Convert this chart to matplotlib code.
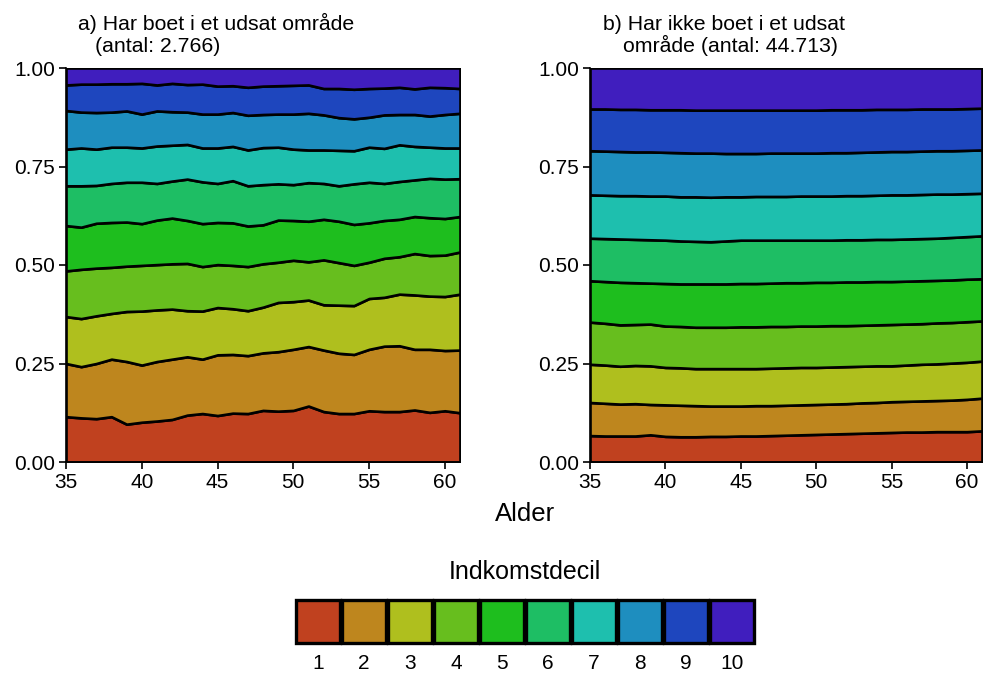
# Indkomstdecil efter alder - udsat område vs. ikke udsat område

import numpy as np
import matplotlib
matplotlib.use("Agg")
import matplotlib.pyplot as plt

plt.rcParams['font.family'] = ['Liberation Sans', 'DejaVu Sans']

# Alder
ages = np.arange(35, 62)

# a) Har boet i et udsat område - kumulerede andele (øvre grænse for decil 1..9)
a_b1 = [0.115, 0.112, 0.110, 0.115, 0.096, 0.101, 0.104, 0.108, 0.119, 0.123, 0.118, 0.124, 0.123, 0.131,
        0.129, 0.131, 0.142, 0.128, 0.123, 0.123, 0.130, 0.128, 0.128, 0.132, 0.126, 0.130, 0.125]
a_b2 = [0.250, 0.242, 0.250, 0.261, 0.255, 0.246, 0.255, 0.261, 0.267, 0.261, 0.272, 0.273, 0.270, 0.277,
        0.280, 0.286, 0.293, 0.284, 0.276, 0.273, 0.286, 0.294, 0.295, 0.286, 0.286, 0.283, 0.284]
a_b3 = [0.369, 0.364, 0.371, 0.377, 0.382, 0.383, 0.386, 0.388, 0.384, 0.383, 0.392, 0.389, 0.384, 0.393,
        0.405, 0.407, 0.411, 0.399, 0.398, 0.397, 0.415, 0.418, 0.426, 0.424, 0.421, 0.420, 0.426]
a_b4 = [0.485, 0.489, 0.492, 0.494, 0.497, 0.499, 0.501, 0.503, 0.504, 0.496, 0.501, 0.499, 0.496, 0.503,
        0.507, 0.512, 0.508, 0.513, 0.506, 0.499, 0.507, 0.517, 0.521, 0.529, 0.524, 0.525, 0.533]
a_b5 = [0.600, 0.596, 0.606, 0.608, 0.609, 0.605, 0.614, 0.619, 0.613, 0.605, 0.608, 0.607, 0.599, 0.602,
        0.614, 0.613, 0.611, 0.616, 0.611, 0.603, 0.607, 0.613, 0.616, 0.623, 0.620, 0.618, 0.623]
a_b6 = [0.701, 0.701, 0.702, 0.707, 0.710, 0.710, 0.707, 0.713, 0.718, 0.711, 0.707, 0.714, 0.701, 0.704,
        0.706, 0.704, 0.709, 0.707, 0.701, 0.706, 0.710, 0.707, 0.712, 0.716, 0.720, 0.718, 0.719]
a_b7 = [0.794, 0.797, 0.794, 0.799, 0.799, 0.797, 0.802, 0.804, 0.806, 0.797, 0.797, 0.801, 0.792, 0.798,
        0.799, 0.794, 0.792, 0.792, 0.791, 0.790, 0.799, 0.796, 0.805, 0.801, 0.799, 0.797, 0.797]
a_b8 = [0.892, 0.888, 0.887, 0.888, 0.891, 0.883, 0.891, 0.889, 0.888, 0.883, 0.883, 0.887, 0.880, 0.882,
        0.883, 0.883, 0.885, 0.881, 0.874, 0.871, 0.875, 0.881, 0.882, 0.882, 0.878, 0.882, 0.885]
a_b9 = [0.957, 0.959, 0.959, 0.960, 0.960, 0.961, 0.957, 0.961, 0.958, 0.959, 0.954, 0.955, 0.951, 0.954,
        0.955, 0.956, 0.957, 0.948, 0.948, 0.946, 0.948, 0.949, 0.951, 0.947, 0.951, 0.950, 0.948]

# b) Har ikke boet i et udsat område
b_b1 = [0.067, 0.066, 0.066, 0.066, 0.069, 0.065, 0.064, 0.064, 0.065, 0.065, 0.066, 0.066, 0.067, 0.068,
        0.069, 0.070, 0.071, 0.072, 0.073, 0.074, 0.075, 0.076, 0.076, 0.077, 0.077, 0.077, 0.079]
b_b2 = [0.151, 0.149, 0.147, 0.148, 0.146, 0.145, 0.144, 0.143, 0.142, 0.142, 0.142, 0.143, 0.143, 0.144,
        0.145, 0.146, 0.147, 0.148, 0.150, 0.151, 0.153, 0.154, 0.155, 0.156, 0.157, 0.159, 0.162]
b_b3 = [0.248, 0.246, 0.243, 0.245, 0.244, 0.240, 0.239, 0.237, 0.237, 0.237, 0.237, 0.237, 0.238, 0.239,
        0.240, 0.240, 0.241, 0.242, 0.243, 0.244, 0.244, 0.246, 0.248, 0.249, 0.251, 0.253, 0.256]
b_b4 = [0.355, 0.352, 0.348, 0.349, 0.350, 0.345, 0.344, 0.342, 0.342, 0.342, 0.343, 0.343, 0.344, 0.344,
        0.345, 0.345, 0.346, 0.346, 0.347, 0.348, 0.349, 0.350, 0.351, 0.353, 0.354, 0.356, 0.358]
b_b5 = [0.460, 0.458, 0.456, 0.455, 0.454, 0.453, 0.452, 0.452, 0.452, 0.452, 0.453, 0.453, 0.454, 0.455,
        0.455, 0.456, 0.456, 0.457, 0.457, 0.458, 0.458, 0.459, 0.460, 0.461, 0.462, 0.464, 0.465]
b_b6 = [0.568, 0.567, 0.566, 0.565, 0.564, 0.563, 0.561, 0.560, 0.559, 0.561, 0.563, 0.563, 0.563, 0.563,
        0.563, 0.563, 0.563, 0.564, 0.564, 0.565, 0.565, 0.566, 0.567, 0.568, 0.570, 0.572, 0.574]
b_b7 = [0.678, 0.677, 0.676, 0.676, 0.675, 0.675, 0.673, 0.673, 0.672, 0.673, 0.673, 0.674, 0.674, 0.674,
        0.675, 0.675, 0.675, 0.676, 0.676, 0.677, 0.678, 0.678, 0.679, 0.680, 0.680, 0.681, 0.682]
b_b8 = [0.790, 0.789, 0.788, 0.787, 0.787, 0.786, 0.785, 0.784, 0.784, 0.783, 0.783, 0.783, 0.784, 0.784,
        0.784, 0.784, 0.785, 0.785, 0.786, 0.787, 0.788, 0.788, 0.789, 0.790, 0.790, 0.791, 0.792]
b_b9 = [0.896, 0.896, 0.895, 0.895, 0.894, 0.894, 0.894, 0.893, 0.893, 0.893, 0.893, 0.893, 0.893, 0.893,
        0.893, 0.893, 0.894, 0.894, 0.894, 0.895, 0.895, 0.895, 0.896, 0.896, 0.896, 0.897, 0.898]

deciles = ["1", "2", "3", "4", "5", "6", "7", "8", "9", "10"]
colors = ["#C0411F", "#BE861E", "#AFBF1E", "#67BE1E", "#1EBE1E",
          "#1EBE64", "#1EBFAE", "#1E8EBF", "#1E46BE", "#401EBE"]

yticks = [0, 0.25, 0.5, 0.75, 1.0]
ytick_labels = ["0.00", "0.25", "0.50", "0.75", "1.00"]
xticks = [35, 40, 45, 50, 55, 60]


def draw_panel(ax, bounds):
    edges = [np.zeros(len(ages))] + [np.array(b) for b in bounds] + [np.ones(len(ages))]
    for i in range(10):
        ax.fill_between(ages, edges[i], edges[i + 1], facecolor=colors[i],
                        edgecolor="black", linewidth=1.9, zorder=2)
    ax.set_xlim(35, 61)
    ax.set_ylim(0, 1)
    ax.set_yticks(yticks)
    ax.set_yticklabels(ytick_labels)
    ax.set_xticks(xticks)
    ax.tick_params(labelsize=15, length=5, width=1.2, direction="out", pad=3)
    for s in ["top", "right"]:
        ax.spines[s].set_visible(False)
    ax.spines["left"].set_linewidth(1.2)
    ax.spines["bottom"].set_linewidth(1.2)


fig = plt.figure(figsize=(9.84, 6.75), dpi=100)
W, H = 984, 675

ax1 = fig.add_axes([66 / W, 213 / H, 394 / W, 394 / H])
draw_panel(ax1, [a_b1, a_b2, a_b3, a_b4, a_b5, a_b6, a_b7, a_b8, a_b9])

ax2 = fig.add_axes([590 / W, 213 / H, 392 / W, 394 / H])
draw_panel(ax2, [b_b1, b_b2, b_b3, b_b4, b_b5, b_b6, b_b7, b_b8, b_b9])

# titler
fig.text(78 / W, 1 - 30 / H, "a) Har boet i et udsat område", fontsize=15.3, va="baseline")
fig.text(95 / W, 1 - 52 / H, "(antal: 2.766)", fontsize=15.3, va="baseline")
fig.text(603 / W, 1 - 30 / H, "b) Har ikke boet i et udsat", fontsize=15.3, va="baseline")
fig.text(623 / W, 1 - 52 / H, "område (antal: 44.713)", fontsize=15.3, va="baseline")

fig.text(525 / W, 1 - 514 / H, "Alder", fontsize=18.5, ha="center", va="center")

# legende
fig.text(525 / W, 1 - 572 / H, "Indkomstdecil", fontsize=18, ha="center", va="center")
lax = fig.add_axes([295 / W, 32 / H, 460 / W, 43 / H])
lax.bar(range(10), 1, width=0.95, bottom=0, color=colors, edgecolor="black",
        linewidth=2.4, clip_on=False)
lax.set_xlim(-0.5, 9.5)
lax.set_ylim(0, 1)
lax.set_xticks(range(10))
lax.set_xticklabels(deciles)
lax.set_yticks([])
lax.tick_params(axis="x", length=0, labelsize=15, pad=8)
for s in lax.spines.values():
    s.set_visible(False)

fig.savefig("out.png", dpi=100)
